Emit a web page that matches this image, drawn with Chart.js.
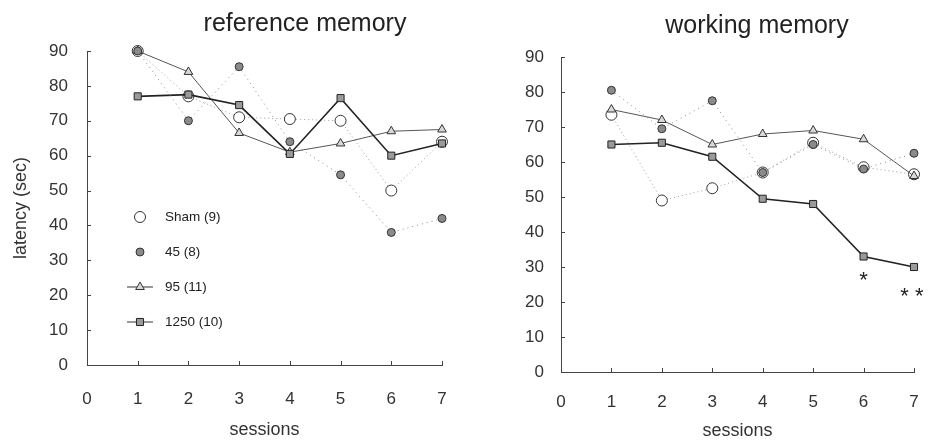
<!DOCTYPE html>
<html>
<head>
<meta charset="utf-8">
<script src="https://cdn.jsdelivr.net/npm/chart.js@4.4.1/dist/chart.umd.min.js"></script>
<style>
  html, body { margin: 0; padding: 0; background: #fff; }
  .wrap { display: flex; width: 931px; height: 442px; }
  .box { position: relative; height: 442px; }
</style>
</head>
<body>
<div class="wrap">
  <div class="box" style="width:465px"><canvas id="refChart"></canvas></div>
  <div class="box" style="width:466px"><canvas id="workChart"></canvas></div>
</div>
<script>
// sessões
const sessions = [1, 2, 3, 4, 5, 6, 7];
const groupNames = ['Sham (9)', '45 (8)', '95 (11)', '1250 (10)'];

// reference memory
const refSham = [90, 77, 71, 70.5, 70, 50, 64];
const ref45   = [90, 70, 85.5, 64, 54.5, 38, 42];
const ref95   = [90, 84, 66.5, 61, 63.5, 67, 67.5];
const ref1250 = [77, 77.5, 74.5, 60.5, 76.5, 60, 63.5];

// working memory
const workSham = [73.5, 49, 52.5, 57, 65.5, 58.5, 56.5];
const work45   = [80.5, 69.5, 77.5, 57, 65, 58, 62.5];
const work95   = [75, 72, 65, 68, 69, 66.5, 56];
const work1250 = [65, 65.5, 61.5, 49.5, 48, 33, 30];

const workStars = [{ x: 6, y: 26, text: '*' }, { x: 6.96, y: 21.5, text: '* *' }];

const yTicks = [0, 10, 20, 30, 40, 50, 60, 70, 80, 90];
const FONT = '"Liberation Sans", Arial, sans-serif';

const styles = [
  { pointStyle: 'circle',   radius: 5.5, bg: '#ffffff', border: '#333', line: '#9a9a9a', width: 1,   dash: [1, 3], order: 3 },
  { pointStyle: 'circle',   radius: 4,   bg: '#8a8a8a', border: '#333', line: '#8a8a8a', width: 1,   dash: [1, 4], order: 0 },
  { pointStyle: 'triangle', radius: 5,   bg: '#d8d8d8', border: '#333', line: '#555',    width: 1,   dash: [],     order: 2 },
  { pointStyle: 'rect',     radius: 5,   bg: '#9a9a9a', border: '#222', line: '#222',    width: 1.6, dash: [],     order: 1 }
];

function makeDatasets(series) {
  return series.map((vals, i) => ({
    label: groupNames[i],
    data: sessions.map((s, k) => ({ x: s, y: vals[k] })),
    showLine: true,
    order: styles[i].order,
    borderColor: styles[i].line,
    borderWidth: styles[i].width,
    borderDash: styles[i].dash,
    pointStyle: styles[i].pointStyle,
    pointRadius: styles[i].radius,
    pointBackgroundColor: styles[i].bg,
    pointBorderColor: styles[i].border,
    pointBorderWidth: 1,
    tension: 0,
    clip: false
  }));
}

// desenha títulos, ticks internos, legenda e asteriscos
const extras = {
  id: 'extras',
  afterDraw(chart, args, opts) {
    const ctx = chart.ctx;
    const xs = chart.scales.x, ys = chart.scales.y;
    ctx.save();
    // ticks internos
    ctx.strokeStyle = '#444';
    ctx.lineWidth = 1;
    ctx.beginPath();
    yTicks.forEach(v => {
      const py = Math.round(ys.getPixelForValue(v)) + 0.5;
      ctx.moveTo(xs.left, py); ctx.lineTo(xs.left + 4, py);
    });
    sessions.forEach(s => {
      const px = Math.round(xs.getPixelForValue(s)) + 0.5;
      ctx.moveTo(px, ys.bottom); ctx.lineTo(px, ys.bottom - 4);
    });
    ctx.stroke();
    // título
    ctx.fillStyle = '#222';
    ctx.font = '25px ' + FONT;
    ctx.textAlign = 'center';
    ctx.textBaseline = 'middle';
    ctx.fillText(opts.title, opts.titleX, opts.titleY);
    // asteriscos
    if (opts.stars) {
      ctx.font = '22px ' + FONT;
      opts.stars.forEach(st => {
        ctx.fillText(st.text, xs.getPixelForValue(st.x), ys.getPixelForValue(st.y));
      });
    }
    // legenda
    if (opts.legend) {
      ctx.font = '13.5px ' + FONT;
      ctx.textAlign = 'left';
      chart.data.datasets.forEach((ds, i) => {
        const y = 217 + i * 35, x = 140;
        ctx.setLineDash([]);
        ctx.lineWidth = 1;
        ctx.strokeStyle = '#333';
        if (i >= 2) {
          ctx.beginPath(); ctx.moveTo(x - 13, y); ctx.lineTo(x + 13, y); ctx.stroke();
        }
        ctx.fillStyle = ds.pointBackgroundColor;
        ctx.strokeStyle = ds.pointBorderColor;
        Chart.helpers.drawPoint(ctx, {
          pointStyle: ds.pointStyle, radius: ds.pointRadius, borderWidth: 1, rotation: 0
        }, x, y);
        ctx.fillStyle = '#222';
        ctx.fillText(ds.label, 165, y);
      });
    }
    ctx.restore();
  }
};

function buildChart(id, series, cfg) {
  return new Chart(document.getElementById(id), {
    type: 'scatter',
    data: { datasets: makeDatasets(series) },
    plugins: [extras],
    options: {
      responsive: true,
      maintainAspectRatio: false,
      animation: false,
      layout: { padding: { top: cfg.top, right: cfg.right, left: 0, bottom: 0 } },
      plugins: {
        legend: { display: false },
        tooltip: { enabled: false },
        extras: cfg.extras
      },
      scales: {
        x: {
          type: 'linear', min: 0, max: 7,
          afterFit: s => { s.height = cfg.xHeight; },
          afterBuildTicks: s => { s.ticks = [0, ...sessions].map(v => ({ value: v })); },
          grid: { display: false },
          border: { display: true, color: '#444', width: 1, dash: [3, 1] },
          ticks: { padding: cfg.xPad, color: '#333', font: { family: FONT, size: 17 } },
          title: { display: true, text: 'sessions', color: '#333', font: { family: FONT, size: 18 }, padding: { top: 0, bottom: cfg.xTitlePad } }
        },
        y: {
          min: 0, max: 90,
          afterFit: s => { s.width = cfg.yWidth; },
          afterBuildTicks: s => { s.ticks = yTicks.map(v => ({ value: v })); },
          grid: { display: false },
          border: { display: true, color: '#444', width: 1, dash: [3, 1] },
          ticks: { padding: cfg.yPad, color: '#333', font: { family: FONT, size: 17 } },
          title: cfg.yTitle
            ? { display: true, text: 'latency (sec)', color: '#333', font: { family: FONT, size: 18 }, padding: { top: 10, bottom: 0 } }
            : { display: false }
        }
      }
    }
  });
}

buildChart('refChart', [refSham, ref45, ref95, ref1250], {
  top: 51, right: 23, xHeight: 77, yWidth: 87, xPad: 16, yPad: 11, xTitlePad: 1, yTitle: true,
  extras: { title: 'reference memory', titleX: 305, titleY: 24, legend: true }
});

buildChart('workChart', [workSham, work45, work95, work1250], {
  top: 57, right: 17, xHeight: 70, yWidth: 96, xPad: 12, yPad: 9, xTitlePad: 0, yTitle: false,
  extras: { title: 'working memory', titleX: 292, titleY: 26, stars: workStars }
});
</script>
</body>
</html>
